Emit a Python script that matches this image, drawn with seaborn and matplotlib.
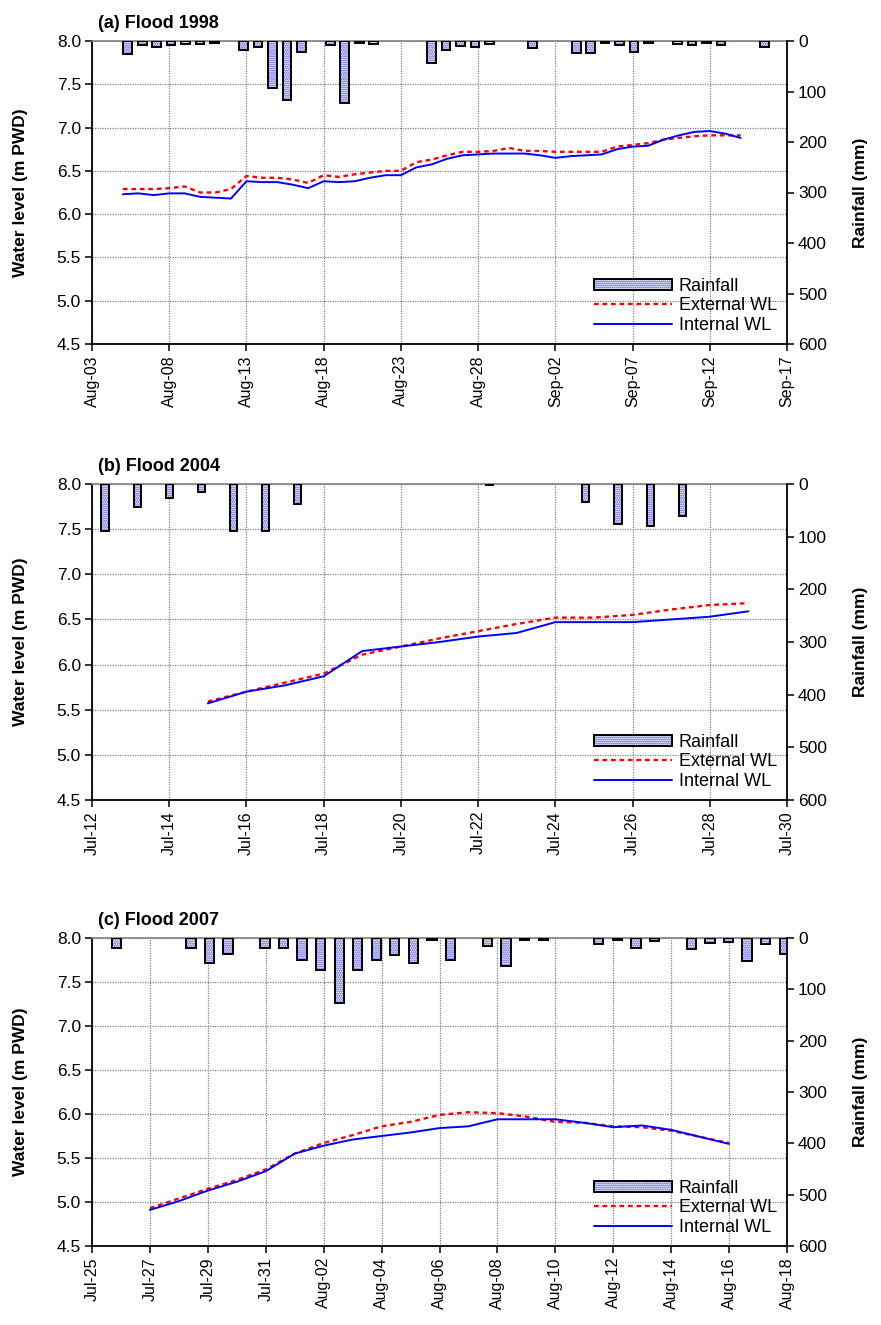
import numpy as np
import pandas as pd
import matplotlib
matplotlib.use("Agg")
import matplotlib.pyplot as plt
import matplotlib.dates as mdates
import matplotlib.patches as mpatches
from matplotlib.lines import Line2D
from matplotlib.ticker import FormatStrFormatter
import seaborn as sns

sns.set_theme(style="white")
plt.rcParams["font.family"] = ["Liberation Sans", "DejaVu Sans"]
plt.rcParams["hatch.linewidth"] = 0.9
for k in ("text.color", "axes.labelcolor", "xtick.color", "ytick.color"):
    plt.rcParams[k] = "black"

# ---------------- data ----------------
titles = ["(a) Flood 1998", "(b) Flood 2004", "(c) Flood 2007"]

# (a) 1998: daily water levels from Aug-05
wl_start_a = "1998-08-05"
ext_a = [6.29, 6.29, 6.29, 6.30, 6.32, 6.25, 6.25, 6.29, 6.44, 6.42, 6.42, 6.40, 6.36,
         6.45, 6.43, 6.46, 6.48, 6.50, 6.50, 6.60, 6.63, 6.68, 6.72, 6.72, 6.73, 6.765,
         6.73, 6.73, 6.72, 6.72, 6.72, 6.72, 6.78, 6.80, 6.82, 6.86, 6.88, 6.90, 6.91,
         6.91, 6.91]
int_a = [6.23, 6.24, 6.22, 6.24, 6.24, 6.20, 6.19, 6.18, 6.38, 6.37, 6.37, 6.34, 6.30,
         6.38, 6.37, 6.38, 6.42, 6.45, 6.45, 6.54, 6.575, 6.64, 6.68, 6.69, 6.70, 6.70,
         6.70, 6.68, 6.65, 6.67, 6.68, 6.69, 6.75, 6.78, 6.79, 6.86, 6.91, 6.95, 6.96,
         6.93, 6.88]
rain_a = [26, 8, 11, 8, 6, 6, 3, 0, 17, 11, 93, 117, 21, 0, 8, 122, 3, 6, 0, 0, 0, 44,
          17, 9, 11, 5, 0, 0, 13, 0, 0, 23, 23, 3, 8, 22, 3, 0, 5, 8, 3, 8, 0, 0, 11]

# (b) 2004: daily water levels from Jul-15
wl_start_b = "2004-07-15"
ext_b = [5.59, 5.70, 5.80, 5.90, 6.11, 6.20, 6.29, 6.37, 6.45, 6.52, 6.52, 6.55, 6.61,
         6.66, 6.68]
int_b = [5.57, 5.70, 5.77, 5.87, 6.15, 6.20, 6.25, 6.31, 6.35, 6.47, 6.47, 6.47, 6.50,
         6.53, 6.59]
rain_b = [90, 44, 27, 15, 90, 90, 38, 0, 0, 0, 0, 0, 2, 0, 0, 35, 76, 80, 61]

# (c) 2007: daily water levels from Jul-27
wl_start_c = "2007-07-27"
ext_c = [4.93, 5.04, 5.15, 5.25, 5.37, 5.55, 5.67, 5.76, 5.86, 5.91, 5.99, 6.02, 6.01,
         5.97, 5.91, 5.90, 5.86, 5.85, 5.81, 5.74, 5.67]
int_c = [4.91, 5.01, 5.13, 5.23, 5.35, 5.55, 5.64, 5.71, 5.75, 5.79, 5.84, 5.86, 5.94,
         5.94, 5.94, 5.90, 5.85, 5.87, 5.82, 5.74, 5.66]
rain_c = [19, 0, 0, 0, 19, 49, 31, 0, 19, 19, 43, 63, 126, 63, 43, 34, 49, 3, 43, 0, 16,
          55, 3, 3, 0, 0, 11, 3, 19, 6, 0, 22, 9, 7, 45, 12, 31]

axis_ranges = [("1998-08-03", "1998-09-17", 5),
               ("2004-07-12", "2004-07-30", 2),
               ("2007-07-25", "2007-08-18", 2)]

# ---------------- layout ----------------
W, H = 881, 1325
fig = plt.figure(figsize=(W / 100, H / 100), dpi=100)

def rect(top, bottom, left=92, right=787):
    return [left / W, 1 - bottom / H, (right - left) / W, (bottom - top) / H]

rects = [rect(41, 344), rect(484, 800), rect(938, 1246)]
bar_lims = [(-2.47, 45.57), (-0.405, 21.27), (-1.332, 36.15)]
bar_widths = [0.6, 0.22, 0.5]

HATCH_BLUE = "#3a3ad6"
GRID = "#808080"


def draw_panel(i, wl_start, ext, intl, rain):
    r = rects[i]
    ax = fig.add_axes(r)
    axb = fig.add_axes(r)

    dates = pd.date_range(wl_start, periods=len(ext), freq="D")
    sns.lineplot(x=dates, y=ext, ax=ax, color="#ff0000", linewidth=1.7,
                 linestyle=(0, (2.0, 1.6)), zorder=4)
    sns.lineplot(x=dates, y=intl, ax=ax, color="#0000ff", linewidth=1.4, zorder=5)

    start, end, step = axis_ranges[i]
    ax.set_xlim(pd.Timestamp(start), pd.Timestamp(end))
    ax.set_xticks(pd.date_range(start, end, freq=f"{step}D"))
    ax.xaxis.set_major_formatter(mdates.DateFormatter("%b-%d"))
    ax.set_ylim(4.5, 8.0)
    ax.set_yticks(np.arange(4.5, 8.01, 0.5))
    ax.yaxis.set_major_formatter(FormatStrFormatter("%.1f"))
    ax.grid(True, linestyle=(0, (1, 1)), color=GRID, linewidth=0.9)
    ax.tick_params(axis="x", bottom=True, direction="out", length=5, width=1.1,
                   labelsize=11.5, labelrotation=90, color="black", pad=3)
    ax.tick_params(axis="y", left=True, direction="out", length=5, width=1.1,
                   labelsize=12.5, color="black", pad=3)
    ax.set_xlabel("")
    ax.set_ylabel("Water level (m PWD)", fontsize=12.5, fontweight="bold")
    ax.yaxis.set_label_coords(-0.092, 0.5)
    for s in ("left", "bottom"):
        ax.spines[s].set_color("black")
        ax.spines[s].set_linewidth(1.3)
    ax.spines["right"].set_visible(False)
    ax.spines["top"].set_color(GRID)
    ax.spines["top"].set_linewidth(1.2)

    # rainfall bars on their own category axis
    df = pd.DataFrame({"cat": np.arange(len(rain)), "rain": rain})
    df = df[df["rain"] > 0]
    sns.barplot(data=df, x="cat", y="rain", native_scale=True, width=bar_widths[i],
                color="white", edgecolor=HATCH_BLUE, hatch="........", linewidth=0,
                errorbar=None, ax=axb, zorder=2)
    sns.barplot(data=df, x="cat", y="rain", native_scale=True, width=bar_widths[i],
                fill=False, color="black", linewidth=1.4, errorbar=None, ax=axb,
                zorder=3)
    axb.patch.set_visible(False)
    axb.set_xlim(*bar_lims[i])
    axb.set_ylim(600, 0)
    axb.set_yticks(np.arange(0, 601, 100))
    axb.xaxis.set_visible(False)
    axb.yaxis.tick_right()
    axb.yaxis.set_label_position("right")
    axb.tick_params(axis="y", right=True, left=False, labelright=True, labelleft=False,
                    direction="out", length=5, width=1.1, labelsize=12.5, color="black",
                    pad=3)
    axb.set_ylabel("Rainfall (mm)", fontsize=12.5, fontweight="bold")
    axb.yaxis.set_label_coords(1.095, 0.5)
    for s in ("left", "top", "bottom"):
        axb.spines[s].set_visible(False)
    axb.spines["right"].set_color("black")
    axb.spines["right"].set_linewidth(1.3)
    axb.grid(False)

    ax.text(0.008, 1.03, titles[i], transform=ax.transAxes, fontsize=13,
            fontweight="bold", va="bottom", ha="left")

    h_rain = (mpatches.Patch(facecolor="white", edgecolor=HATCH_BLUE, hatch="........",
                             linewidth=0),
              mpatches.Patch(facecolor="none", edgecolor="black", linewidth=1.4))
    h_ext = Line2D([], [], color="#ff0000", linewidth=1.7, linestyle=(0, (2.0, 1.6)))
    h_int = Line2D([], [], color="#0000ff", linewidth=1.4)
    axb.legend([h_rain, h_ext, h_int], ["Rainfall", "External WL", "Internal WL"],
               loc="lower right", bbox_to_anchor=(1.0, 0.0), frameon=False,
               fontsize=13, handlelength=4.3, handleheight=0.6, labelspacing=0.15,
               handletextpad=0.4, borderaxespad=0.15)


draw_panel(0, wl_start_a, ext_a, int_a, rain_a)
draw_panel(1, wl_start_b, ext_b, int_b, rain_b)
draw_panel(2, wl_start_c, ext_c, int_c, rain_c)

fig.savefig("out.png", dpi=100)
